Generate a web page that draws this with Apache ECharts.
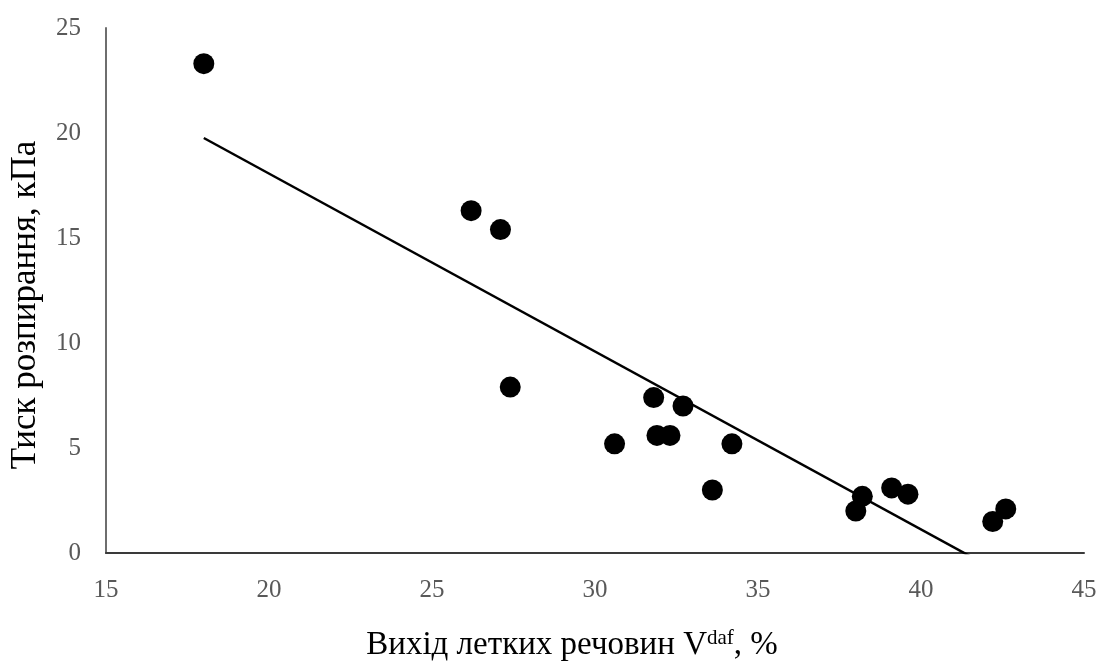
<!DOCTYPE html>
<html><head><meta charset="utf-8">
<script src="https://cdn.jsdelivr.net/npm/echarts@6/dist/echarts.min.js"></script>
<style>html,body{margin:0;padding:0;background:#fff}#c{width:1102px;height:667px}</style>
</head><body><div id="c"></div>
<script>
const xValues = [18.0, 26.2, 27.1, 27.4, 30.6, 31.8, 31.9, 32.3, 32.7, 34.2, 33.6, 38.0, 38.2, 39.1, 39.6, 42.2, 42.6];
const yValues = [23.3, 16.3, 15.4, 7.9, 5.2, 7.4, 5.6, 5.6, 7.0, 5.2, 3.0, 2.0, 2.7, 3.1, 2.8, 1.5, 2.1];
const xTicks = [15, 20, 25, 30, 35, 40, 45];
const yTicks = [0, 5, 10, 15, 20, 25];

const pts = xValues.map((x, i) => [x, yValues[i]]);
// linear trendline (least squares) over the data range
const n = xValues.length;
const mx = xValues.reduce((a, b) => a + b, 0) / n;
const my = yValues.reduce((a, b) => a + b, 0) / n;
let sxy = 0, sxx = 0;
for (let i = 0; i < n; i++) { sxy += (xValues[i] - mx) * (yValues[i] - my); sxx += (xValues[i] - mx) ** 2; }
const slope = sxy / sxx, icpt = my - slope * mx;
const xmin = Math.min(...xValues), xmax = Math.max(...xValues);
const trend = [[xmin, icpt + slope * xmin], [xmax, icpt + slope * xmax]];

const serif = '"Liberation Serif", "DejaVu Serif", serif';
const chart = echarts.init(document.getElementById('c'));
chart.setOption({
  animation: false,
  grid: { left: 106, right: 18, top: 28, bottom: 114, containLabel: false, outerBoundsMode: 'none' },
  xAxis: {
    type: 'value', min: xTicks[0], max: xTicks[xTicks.length - 1], interval: 5,
    axisLine: { lineStyle: { color: '#3a3a3a', width: 2 } },
    axisTick: { show: false }, splitLine: { show: false },
    axisLabel: { color: '#595959', fontFamily: serif, fontSize: 25, margin: 25 }
  },
  yAxis: {
    type: 'value', min: yTicks[0], max: yTicks[yTicks.length - 1], interval: 5,
    axisLine: { show: true, lineStyle: { color: '#6e6e6e', width: 2 } },
    axisTick: { show: false }, splitLine: { show: false },
    axisLabel: { color: '#595959', fontFamily: serif, fontSize: 25, margin: 25 }
  },
  graphic: [{
    type: 'text', x: 26, y: 305, rotation: Math.PI / 2,
    style: {
      text: 'Тиск розпирання, кПа', fontFamily: serif, fontSize: 35, fill: '#000',
      align: 'center', verticalAlign: 'middle'
    }
  }, {
    type: 'text', x: 572, y: 645,
    style: {
      text: '{t|Вихід летких речовин V}{s|daf}{t|, %}',
      align: 'center', verticalAlign: 'middle',
      rich: {
        t: { fontFamily: serif, fontSize: 33, fill: '#000', color: '#000' },
        s: { fontFamily: serif, fontSize: 21, fill: '#000', color: '#000', padding: [0, 0, 14, 0] }
      }
    }
  }],
  series: [
    { type: 'scatter', data: pts, symbolSize: 21, itemStyle: { color: '#000', opacity: 1 }, z: 3 },
    { type: 'line', data: trend, showSymbol: false, clip: true,
      lineStyle: { color: '#000', width: 2.5 }, z: 2 }
  ]
});
</script></body></html>
